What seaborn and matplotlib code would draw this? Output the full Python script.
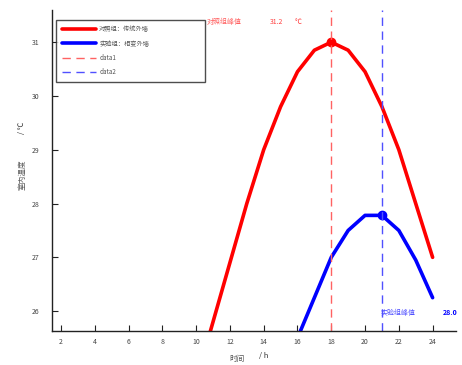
import pandas as pd
import seaborn as sns
import matplotlib.pyplot as plt
from matplotlib.lines import Line2D

# hourly indoor temperature
hours_ctrl = [10, 11, 12, 13, 14, 15, 16, 17, 18, 19, 20, 21, 22, 23, 24]
temp_ctrl = [24.7, 25.8, 26.9, 28.0, 29.0, 29.8, 30.45, 30.85, 31.0, 30.85, 30.45, 29.8, 29.0, 28.0, 27.0]
hours_exp = [16, 17, 18, 19, 20, 21, 22, 23, 24]
temp_exp = [25.5, 26.25, 27.0, 27.5, 27.78, 27.78, 27.5, 26.95, 26.25]
peak_ctrl = (18, 31.0)
peak_exp = (21, 27.78)
labels = ['对照组：传统外墙', '实验组：相变外墙', 'data1', 'data2']

sns.set_style('ticks')
plt.rcParams['font.family'] = ['Noto Sans CJK SC', 'DejaVu Sans']

fig = plt.figure(figsize=(4.62, 3.65), dpi=100)
ax = fig.add_axes([0.1126, 0.093, 0.875, 0.88])

ctrl = pd.DataFrame({'hour': hours_ctrl, 'temp': temp_ctrl})
exp = pd.DataFrame({'hour': hours_exp, 'temp': temp_exp})
sns.lineplot(data=ctrl, x='hour', y='temp', color='#ff0000', linewidth=2.6, ax=ax)
sns.lineplot(data=exp, x='hour', y='temp', color='#0000ff', linewidth=2.6, ax=ax)
ax.plot(*peak_ctrl, 'o', color='#ff0000', markersize=6)
ax.plot(*peak_exp, 'o', color='#0000ff', markersize=6)
red_dash = '#ff6262'
blue_dash = '#5050ff'
ax.axvline(peak_ctrl[0], color=red_dash, linestyle='--', linewidth=1.0, dashes=(6, 4))
ax.axvline(peak_exp[0], color=blue_dash, linestyle='--', linewidth=1.0, dashes=(6, 4))

ax.set_xlim(1.47, 25.4)
ax.set_ylim(25.63, 31.6)
ax.set_xticks([2, 4, 6, 8, 10, 12, 14, 16, 18, 20, 22, 24])
ax.set_yticks([26, 27, 28, 29, 30, 31])
ax.tick_params(direction='in', labelsize=5, colors='#222222', labelcolor='#444444', length=4)
ax.tick_params(axis='x', pad=5)
ax.tick_params(axis='y', pad=9)
ax.set_xlabel('')
ax.set_ylabel('')
for s in ['top', 'right']:
    ax.spines[s].set_visible(False)
for s in ['left', 'bottom']:
    ax.spines[s].set_linewidth(1.0)
    ax.spines[s].set_color('#222222')

ax.text(10.6, 31.33, '对照组峰值', color='#ff6060', fontsize=5)
ax.text(14.35, 31.33, '31.2', color='#ff4040', fontsize=5)
ax.text(15.85, 31.33, '℃', color='#ff4040', fontsize=5)
ax.text(20.9, 25.93, '实验组峰值', color='#5050ff', fontsize=5)
ax.text(24.6, 25.93, '28.0', color='#0000ff', fontsize=5, fontweight='bold')

fig.text(0.513, 0.012, '时间', fontsize=5.5, color='#555555', ha='center')
fig.text(0.57, 0.02, '/ h', fontsize=5.5, color='#333333', ha='center')
fig.text(0.04, 0.52, '室内温度', fontsize=5.5, color='#555555', rotation=90, va='center')
fig.text(0.04, 0.65, '/ ℃', fontsize=5.5, color='#333333', rotation=90, va='center')

handles = [Line2D([], [], color='#ff0000', linewidth=2.6),
           Line2D([], [], color='#0000ff', linewidth=2.6),
           Line2D([], [], color=red_dash, linewidth=1.0, linestyle=(0, (6, 4))),
           Line2D([], [], color=blue_dash, linewidth=1.0, linestyle=(0, (6, 4)))]
leg = ax.legend(handles, labels, loc='upper left', bbox_to_anchor=(0.01, 0.0, 0.369, 0.969),
                mode='expand', fontsize=4.5,
                frameon=True, fancybox=False, edgecolor='#222222', handlelength=5.5,
                handletextpad=0.5, borderpad=0.9, labelspacing=1.0, borderaxespad=0)
leg.get_frame().set_linewidth(1.0)
for t in leg.get_texts():
    t.set_color('#555555')

fig.savefig('out.png', dpi=100)
